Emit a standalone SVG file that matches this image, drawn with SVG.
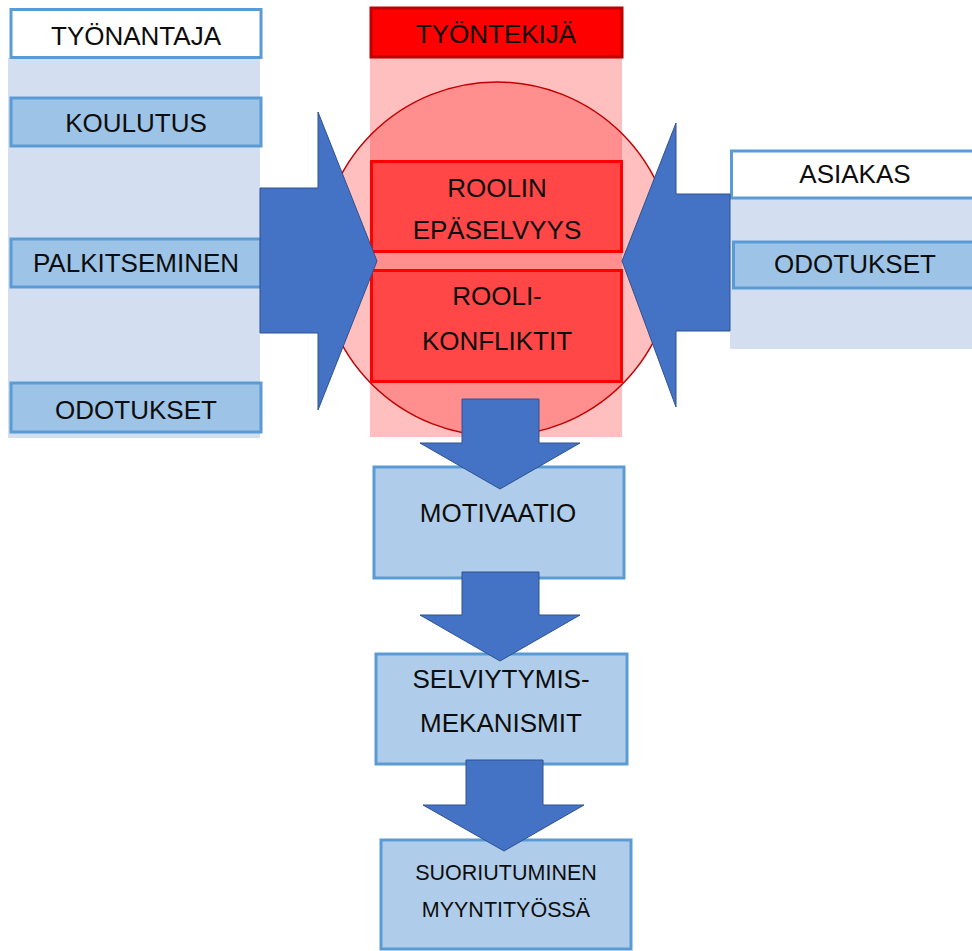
<svg xmlns="http://www.w3.org/2000/svg" width="972" height="951" viewBox="0 0 972 951">
<style>
  text { font-family: "Liberation Sans", Arial, sans-serif; font-size: 26px; fill: #0d0d0d; text-anchor: middle; }
  .panel { fill: #d4def1; }
  .hdr { fill: #ffffff; stroke: #5b9bd5; stroke-width: 3; }
  .item { fill: #9dc3e6; stroke: #5b9bd5; stroke-width: 3; }
  .step { fill: #afcdea; stroke: #5b9bd5; stroke-width: 3; }
  .redbox { fill: #ff4747; stroke: #ff0000; stroke-width: 3; }
  .arrow { fill: #4472c4; stroke: #2f528f; stroke-width: 1; }
</style>
<rect width="972" height="951" fill="#ffffff"/>

<g id="tyonantaja">
  <rect class="panel" x="8" y="58" width="252" height="380"/>
  <rect class="hdr" x="11" y="9.5" width="250" height="48"/>
  <text x="136" y="45">TYÖNANTAJA</text>
</g>
<g id="koulutus">
  <rect class="item" x="11" y="98" width="250" height="48"/>
  <text x="136" y="132">KOULUTUS</text>
</g>
<g id="palkitseminen">
  <rect class="item" x="11" y="239" width="250" height="48"/>
  <text x="136" y="272">PALKITSEMINEN</text>
</g>
<g id="odotukset1">
  <rect class="item" x="11" y="383" width="250" height="49"/>
  <text x="136" y="419">ODOTUKSET</text>
</g>

<g id="tyontekija">
  <rect x="370" y="58" width="252" height="379" fill="#ff0000" fill-opacity="0.25"/>
  <circle cx="497" cy="259" r="177" fill="#ff0000" fill-opacity="0.25" stroke="#c00000" stroke-width="1.5"/>
  <rect x="371" y="8" width="251" height="49" fill="#ff0000" stroke="#c00000" stroke-width="3"/>
  <text x="496" y="43">TYÖNTEKIJÄ</text>
</g>
<g id="roolin-epaselvyys">
  <rect class="redbox" x="371.5" y="161.5" width="250" height="90"/>
  <text x="497" y="197">ROOLIN</text>
  <text x="497" y="239">EPÄSELVYYS</text>
</g>
<g id="roolikonfliktit">
  <rect class="redbox" x="371.5" y="270.5" width="250" height="111"/>
  <text x="497" y="305">ROOLI-</text>
  <text x="497" y="350">KONFLIKTIT</text>
</g>

<g id="asiakas">
  <rect class="panel" x="730" y="198" width="242" height="151"/>
  <rect class="hdr" x="731.5" y="151" width="245" height="47"/>
  <text x="855" y="183">ASIAKAS</text>
</g>
<g id="odotukset2">
  <rect class="item" x="733.5" y="242" width="245" height="46"/>
  <text x="855" y="273">ODOTUKSET</text>
</g>

<g id="motivaatio">
  <rect class="step" x="374" y="467" width="250" height="111"/>
  <text x="498" y="522">MOTIVAATIO</text>
</g>
<g id="selviytymismekanismit">
  <rect class="step" x="376" y="654" width="251" height="110"/>
  <text x="501" y="688">SELVIYTYMIS-</text>
  <text x="501" y="732">MEKANISMIT</text>
</g>
<g id="suoriutuminen">
  <rect class="step" x="381" y="840" width="250" height="109"/>
  <text x="506" y="880" style="font-size:21.5px">SUORIUTUMINEN</text>
  <text x="506" y="917" style="font-size:21.5px">MYYNTITYÖSSÄ</text>
</g>

<g id="connectors">
  <polygon class="arrow" points="260,188 318,188 318,112 377,261 318,410 318,333 260,333"/>
  <polygon class="arrow" points="730,194 676,194 676,123 622,261 676,407 676,331 730,331"/>
  <polygon class="arrow" points="462,399 539,399 539,443 580,443 500,489 420,443 462,443"/>
  <polygon class="arrow" points="462,572 539,572 539,615 580,615 500,661 420,615 462,615"/>
  <polygon class="arrow" points="466,760 543,760 543,805 584,805 504,851 423,805 466,805"/>
</g>
</svg>
